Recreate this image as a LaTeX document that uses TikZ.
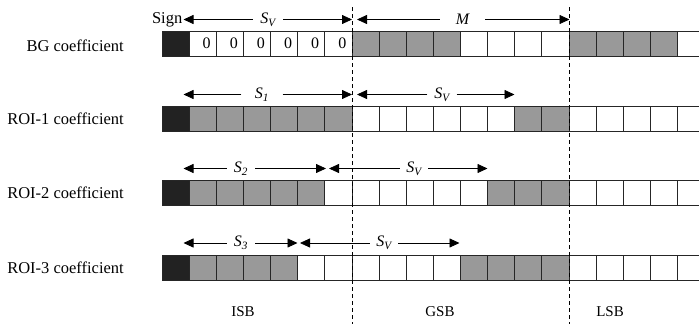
\documentclass[tikz,border=0pt]{standalone}
\usepackage{fontspec}
\setmainfont{Liberation Serif}
\usetikzlibrary{arrows.meta}
\definecolor{cK}{HTML}{222222}
\definecolor{cW}{HTML}{FFFFFF}
\definecolor{cG}{HTML}{999999}
\begin{document}
\begin{tikzpicture}[x=1pt,y=-1pt,
  cell/.style={draw=black!85, line width=0.8pt, minimum width=27.13pt,
    minimum height=25pt, inner sep=0pt, outer sep=0pt},
  lab/.style={font=\fontsize{16.5}{19}\selectfont, inner sep=0pt},
  digit/.style={font=\fontsize{16}{18}\selectfont, inner sep=0pt},
  dim/.style={line width=0.8pt, -{Triangle[length=10pt,width=9pt]}},
  dimlbl/.style={fill=white, inner sep=0pt, minimum height=14pt,
    font=\fontsize{16}{18}\selectfont\itshape},
  sep/.style={line width=0.7pt, dash pattern=on 4pt off 3pt},
  part/.style={font=\fontsize{15}{18}\selectfont, inner sep=0pt}]
\useasboundingbox (0,0) rectangle (699,324);
\clip (0,0) rectangle (699,324);

% bit-plane rows: sign cell, then magnitude bits
\foreach \f [count=\i from 0] in {cK,cW,cW,cW,cW,cW,cW,cG,cG,cG,cG,cW,cW,cW,cW,cG,cG,cG,cG,cW}
  \node[cell, fill=\f] (a\i) at ({175.565+27.13*\i}, 43.5) {};
\foreach \f [count=\i from 0] in {cK,cG,cG,cG,cG,cG,cG,cW,cW,cW,cW,cW,cW,cG,cG,cW,cW,cW,cW,cW}
  \node[cell, fill=\f] (b\i) at ({175.565+27.13*\i}, 118.5) {};
\foreach \f [count=\i from 0] in {cK,cG,cG,cG,cG,cG,cW,cW,cW,cW,cW,cW,cG,cG,cG,cW,cW,cW,cW,cW}
  \node[cell, fill=\f] (c\i) at ({175.565+27.13*\i}, 193) {};
\foreach \f [count=\i from 0] in {cK,cG,cG,cG,cG,cW,cW,cW,cW,cW,cW,cG,cG,cG,cG,cW,cW,cW,cW,cW}
  \node[cell, fill=\f] (d\i) at ({175.565+27.13*\i}, 268) {};

% zero bits of the background coefficient
\foreach \i in {1,...,6}
  \node[digit] (z\i) at ([xshift=4pt]a\i.center) {0};

% row labels
\node[lab, anchor=east] (bg)   at (124,46)    {BG coefficient};
\node[lab, anchor=east] (roi1) at (124,118.5) {ROI-1 coefficient};
\node[lab, anchor=east] (roi2) at (124,193)   {ROI-2 coefficient};
\node[lab, anchor=east] (roi3) at (124,268)   {ROI-3 coefficient};
\node[lab, anchor=east] (sign) at (182.5,20)  {Sign};

% boundaries between the bit-plane groups
\coordinate (s1t) at (352,7);   \coordinate (s1b) at (352,324);
\coordinate (s2t) at (569.5,7); \coordinate (s2b) at (569.5,324);
\draw[sep] (s1t) -- (s1b);
\draw[sep] (s2t) -- (s2b);

% BG row dimensions
\coordinate (l0) at (183.5,19.5); \coordinate (m0) at (352,19.5);
\coordinate (n0) at (357,19.5);   \coordinate (r0) at (569.5,19.5);
\node[dimlbl, minimum width=30pt] (p0) at (268,19.5)   {S\textsubscript{V}};
\node[dimlbl, minimum width=45pt] (q0) at (462.5,19.5) {M};
\draw[dim] (p0) -- (l0); \draw[dim] (p0) -- (m0);
\draw[dim] (q0) -- (n0); \draw[dim] (q0) -- (r0);

% ROI-1 row dimensions
\coordinate (l1) at (183.5,94.5); \coordinate (m1) at (352,94.5);
\coordinate (n1) at (357,94.5);   \coordinate (r1) at (514.5,94.5);
\node[dimlbl, minimum width=41pt] (p1) at (262,94.5) {S\textsubscript{1}};
\node[dimlbl, minimum width=29pt] (q1) at (442,94.5) {S\textsubscript{V}};
\draw[dim] (p1) -- (l1); \draw[dim] (p1) -- (m1);
\draw[dim] (q1) -- (n1); \draw[dim] (q1) -- (r1);

% ROI-2 row dimensions
\coordinate (l2) at (183.5,168.5); \coordinate (m2) at (326,168.5);
\coordinate (n2) at (329,168.5);   \coordinate (r2) at (487.5,168.5);
\node[dimlbl, minimum width=28pt] (p2) at (241,168.5) {S\textsubscript{2}};
\node[dimlbl, minimum width=28pt] (q2) at (414,168.5) {S\textsubscript{V}};
\draw[dim] (p2) -- (l2); \draw[dim] (p2) -- (m2);
\draw[dim] (q2) -- (n2); \draw[dim] (q2) -- (r2);

% ROI-3 row dimensions
\coordinate (l3) at (183.5,243); \coordinate (m3) at (297.5,243);
\coordinate (n3) at (300,243);   \coordinate (r3) at (459.5,243);
\node[dimlbl, minimum width=28pt] (p3) at (241,243) {S\textsubscript{3}};
\node[dimlbl, minimum width=28pt] (q3) at (384,243) {S\textsubscript{V}};
\draw[dim] (p3) -- (l3); \draw[dim] (p3) -- (m3);
\draw[dim] (q3) -- (n3); \draw[dim] (q3) -- (r3);

% bit-plane group names
\node[part] (isb) at (243,312) {ISB};
\node[part] (gsb) at (440,312) {GSB};
\node[part] (lsb) at (610,312) {LSB};
\end{tikzpicture}
\end{document}
